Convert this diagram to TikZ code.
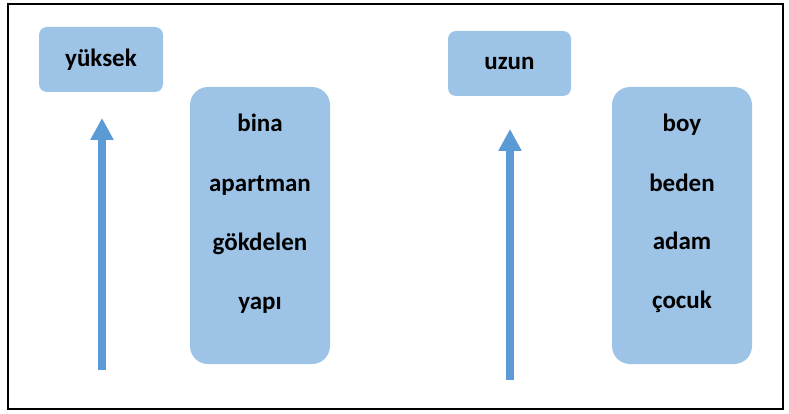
\documentclass[tikz,border=0pt]{standalone}
\usepackage{fontspec}
\setmainfont{Carlito}
\usetikzlibrary{arrows.meta}
\definecolor{boxblue}{HTML}{9DC3E6}
\definecolor{arrblue}{HTML}{5B9BD5}
\begin{document}
\begin{tikzpicture}[x=1pt,y=-1pt,
  box/.style={fill=boxblue, draw=none, rounded corners=#1, inner sep=0pt},
  box/.default=8pt,
  word/.style={anchor=base, inner sep=0pt, font=\fontsize{25}{30}\selectfont\bfseries},
  uparrow/.style={draw=arrblue, line width=8pt, -{Triangle[width=22pt,length=22pt]}}]
\useasboundingbox (0,0) rectangle (789,414);
\draw[line width=1.5pt] (8,4) rectangle (783,409);
% left group
\node[box, minimum width=124pt, minimum height=65pt] (hbox) at (101,59.5) {};
\node[word] (yuksek) at (101,66.5) {yüksek};
\node[box=18pt, minimum width=140pt, minimum height=277pt] (lbox) at (260,225.5) {};
\node[word] (bina) at (260,132) {bina};
\node[word] (apartman) at (260,191) {apartman};
\node[word] (gokdelen) at (260,250) {gökdelen};
\node[word] (yapi) at (260,309) {yapı};
\coordinate (a1s) at (102,370);
\coordinate (a1e) at (102,118);
\draw[uparrow] (a1s) -- (a1e);
% right group
\node[box, minimum width=123pt, minimum height=65pt] (ubox) at (509.5,63.5) {};
\node[word] (uzun) at (509.5,70) {uzun};
\node[box=18pt, minimum width=140pt, minimum height=277pt] (rbox) at (682,225.5) {};
\node[word] (boy) at (682,132) {boy};
\node[word] (beden) at (682,191) {beden};
\node[word] (adam) at (682,249.5) {adam};
\node[word] (cocuk) at (682,308) {çocuk};
\coordinate (a2s) at (510,380);
\coordinate (a2e) at (510,129);
\draw[uparrow] (a2s) -- (a2e);
\end{tikzpicture}
\end{document}
